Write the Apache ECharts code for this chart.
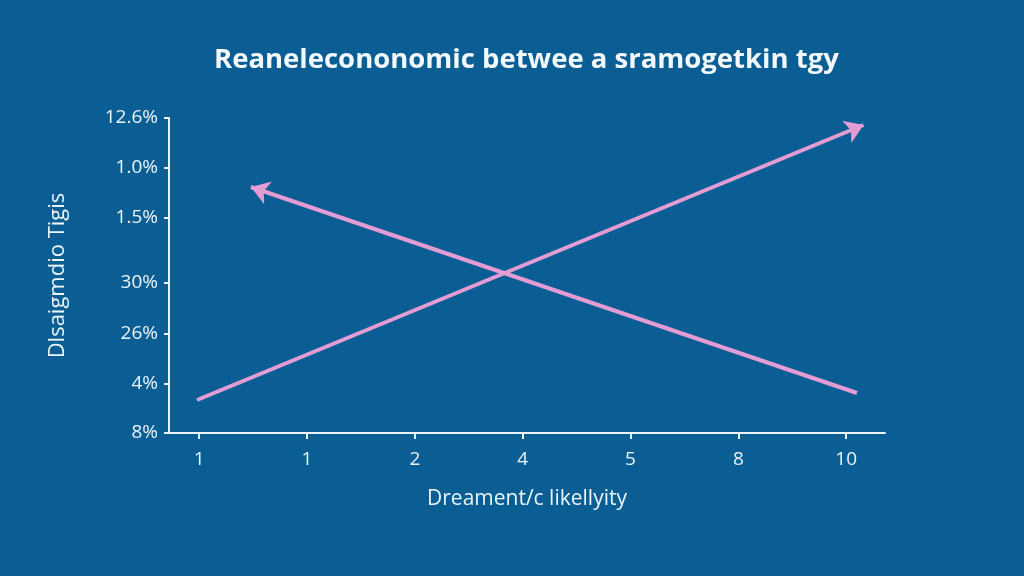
<!DOCTYPE html>
<html>
<head>
<meta charset="utf-8">
<script src="https://cdn.jsdelivr.net/npm/echarts@6/dist/echarts.min.js"></script>
<style>
html,body{margin:0;padding:0;background:#0b5e93;}
#chart{width:1024px;height:576px;}
</style>
</head>
<body>
<div id="chart"></div>
<script>
const titleText = 'Reanelecononomic betwee a sramogetkin tgy';
const xAxisName = 'Dreament/c likellyity';
const yAxisName = 'Dlsaigmdio Tigis';
const xLabels = ['1', '1', '2', '4', '5', '8', '10'];
const xTickValues = [0, 1, 2, 3, 4, 5, 6];
const yLabels = ['8%', '4%', '26%', '30%', '1.5%', '1.0%', '12.6%'];
const yTickValues = [0, 0.98, 1.98, 3.0, 4.3, 5.3, 6.3];
const risingLine = [[-0.02, 0.66], [6.16, 6.16]];
const fallingLine = [[0.48, 4.92], [6.10, 0.80]];

const chart = echarts.init(document.getElementById('chart'), null, {renderer: 'canvas'});
const axisColor = '#eaf4fa';
const font = 'Open Sans';
chart.setOption({
  backgroundColor: '#0b5e93',
  animation: false,
  title: {
    text: titleText,
    left: 209,
    top: 41,
    textStyle: {color: '#f2f8fc', fontSize: 27.5, fontWeight: 700, fontFamily: font}
  },
  grid: {left: 169, right: 139, top: 118, bottom: 143, containLabel: false},
  xAxis: {
    type: 'value',
    min: -0.28,
    max: 6.36,
    name: xAxisName,
    nameLocation: 'middle',
    nameGap: 56,
    nameTextStyle: {color: '#eaf4fa', fontSize: 21, fontFamily: font},
    axisLine: {show: true, onZero: false, lineStyle: {color: axisColor, width: 2}},
    axisTick: {show: true, customValues: xTickValues, length: 6, lineStyle: {color: axisColor, width: 2}},
    axisLabel: {
      customValues: xTickValues,
      color: '#eaf4fa', fontSize: 19, fontFamily: font, margin: 17,
      formatter: v => xLabels[Math.round(v)]
    },
    splitLine: {show: false}
  },
  yAxis: {
    type: 'value',
    min: 0,
    max: 6.3,
    name: yAxisName,
    nameLocation: 'middle',
    nameGap: 100,
    nameRotate: 90,
    nameTextStyle: {color: '#eaf4fa', fontSize: 22, fontFamily: font},
    axisLine: {show: true, onZero: false, lineStyle: {color: axisColor, width: 2}},
    axisTick: {show: true, customValues: yTickValues, length: 5, lineStyle: {color: axisColor, width: 2}},
    axisLabel: {
      customValues: yTickValues,
      color: '#eaf4fa', fontSize: 19, fontFamily: font, margin: 11,
      formatter: v => {
        const i = yTickValues.findIndex(t => Math.abs(t - v) < 1e-6);
        return i >= 0 ? yLabels[i] : '';
      }
    },
    splitLine: {show: false}
  },
  series: [
    {
      type: 'lines',
      coordinateSystem: 'cartesian2d',
      symbol: ['none', 'arrow'],
      symbolSize: 18,
      lineStyle: {color: '#e49cd5', width: 4, opacity: 1, curveness: 0},
      data: [{coords: risingLine}]
    },
    {
      type: 'lines',
      coordinateSystem: 'cartesian2d',
      symbol: ['arrow', 'none'],
      symbolSize: 18,
      lineStyle: {color: '#e49cd5', width: 4, opacity: 1, curveness: 0},
      data: [{coords: fallingLine}]
    }
  ]
});
</script>
</body>
</html>
